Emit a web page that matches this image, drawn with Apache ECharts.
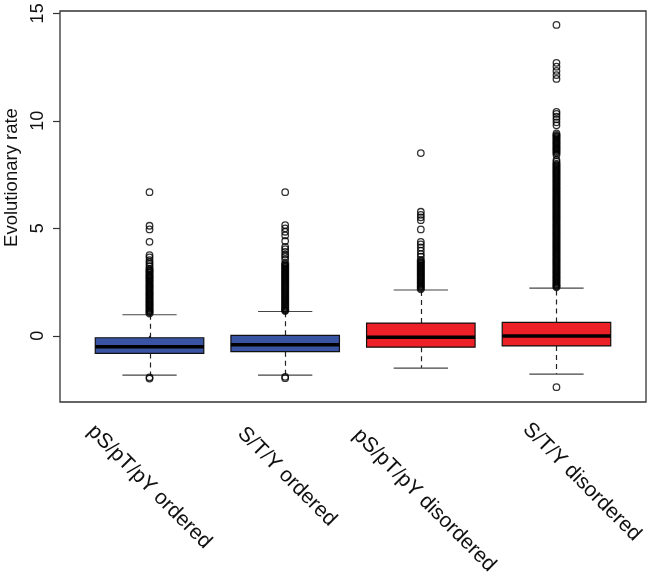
<!DOCTYPE html>
<html>
<head>
<meta charset="utf-8">
<script src="https://cdn.jsdelivr.net/npm/echarts@6/dist/echarts.min.js"></script>
<style>
  html, body { margin: 0; padding: 0; background: #fff; }
  #chart { width: 654px; height: 579px; }
</style>
</head>
<body>
<div id="chart"></div>
<script>
// categories along the x axis (positions 1..4)
const categories = ["pS/pT/pY ordered", "S/T/Y ordered", "pS/pT/pY disordered", "S/T/Y disordered"];
// [lower whisker, Q1, median, Q3, upper whisker]
const boxStats = [
  [-1.83, -0.82, -0.51, -0.09, 0.98],
  [-1.83, -0.74, -0.42, 0.02, 1.13],
  [-1.50, -0.53, -0.07, 0.59, 2.13],
  [-1.78, -0.47, -0.01, 0.62, 2.22]
];
// isolated outliers per group
const outliers1 = [6.68, 5.12, 4.95, 4.37, 3.75, 3.65, 3.52, 3.42, 3.33, 3.24, -1.93, -1.99];
const outliers2 = [6.68, 5.15, 5.0, 4.84, 4.67, 4.41, 4.14, 4.03, 3.9, 3.78, 3.68, 3.55, -1.91, -1.97];
const outliers3 = [8.5, 5.77, 5.63, 5.51, 5.38, 4.95, 4.37, 4.25, 4.11, 3.96, 3.8, 3.68];
const outliers4 = [14.46, 12.7, 12.52, 12.32, 12.13, 11.95, 10.42, 10.32, 10.19, 10.07, 9.93, 9.79, 9.42,
  8.41, 8.18, 8.1, -2.39];
// dense runs of outliers (read as closely packed points forming a solid column)
const dense1 = [3.12, 3.03, 2.95, 2.84, 2.76, 2.68, 2.59, 2.51, 2.42, 2.33, 2.25, 2.16, 2.07, 1.98, 1.9,
  1.81, 1.72, 1.63, 1.55, 1.46, 1.38, 1.29, 1.2, 1.12, 1.04];
const dense2 = [3.37, 3.28, 3.19, 3.1, 3.01, 2.92, 2.83, 2.74, 2.65, 2.56, 2.47, 2.38, 2.29, 2.2, 2.11,
  2.02, 1.93, 1.84, 1.75, 1.66, 1.57, 1.48, 1.39, 1.3, 1.21, 1.16];
const dense3 = [3.52, 3.43, 3.34, 3.25, 3.16, 3.07, 2.98, 2.89, 2.8, 2.71, 2.62, 2.53, 2.44, 2.35, 2.26, 2.17];
const dense4 = [9.34, 9.25, 9.16, 9.06, 8.97, 8.88, 8.78, 8.69, 8.6, 8.5, 8.0, 7.91, 7.82, 7.73, 7.64,
  7.55, 7.46, 7.37, 7.28, 7.19, 7.1, 7.01, 6.92, 6.83, 6.74, 6.65, 6.56, 6.47, 6.38, 6.29, 6.2, 6.11, 6.02,
  5.93, 5.84, 5.75, 5.66, 5.57, 5.48, 5.39, 5.3, 5.21, 5.12, 5.03, 4.94, 4.85, 4.76, 4.67, 4.58, 4.49, 4.4,
  4.31, 4.22, 4.13, 4.04, 3.95, 3.86, 3.77, 3.68, 3.59, 3.5, 3.41, 3.32, 3.23, 3.14, 3.05, 2.96, 2.87, 2.78,
  2.69, 2.6, 2.51, 2.42, 2.33, 2.26];
const yTicks = [0, 5, 10, 15];

const boxColors = ["#3a54a4", "#3a54a4", "#ed1f27", "#ed1f27"];
const FONT = "'Liberation Sans', Arial, Helvetica, sans-serif";
// per-label nudges of the rotated x labels [top, right, bottom, left]
const labelPads = [[4, 0, 0, 4], [0, 8, 13, 0], [18, 0, 0, 28], [0, 0, 39, 33]];

const chart = echarts.init(document.getElementById("chart"));

// boxes drawn by a custom series so whiskers can be dashed and medians thick
const boxData = boxStats.map((s, i) => [i + 1].concat(s));
const toPoints = groups => groups.map((arr, i) => arr.map(v => [i + 1, v])).flat();
const outlierData = toPoints([outliers1, outliers2, outliers3, outliers4]);
const denseData = toPoints([dense1, dense2, dense3, dense4]);

const labelRich = {};
labelPads.forEach((p, i) => {
  labelRich["c" + i] = { fontSize: 21, fontFamily: FONT, color: "#111", padding: p };
});

function renderBox(params, api) {
  const x = api.value(0);
  const lo = api.value(1), q1 = api.value(2), med = api.value(3), q3 = api.value(4), hi = api.value(5);
  const half = 0.4, cap = 0.2;
  const pLo = api.coord([x, lo]), pQ1 = api.coord([x, q1]), pMed = api.coord([x, med]);
  const pQ3 = api.coord([x, q3]), pHi = api.coord([x, hi]);
  const xl = api.coord([x - half, 0])[0], xr = api.coord([x + half, 0])[0];
  const cl = api.coord([x - cap, 0])[0], cr = api.coord([x + cap, 0])[0];
  const cx = Math.round(pMed[0]) + 0.5;
  const dash = { stroke: "#222", lineWidth: 1.2, lineDash: [5, 4] };
  return {
    type: "group",
    children: [
      { type: "line", shape: { x1: cx, y1: pQ3[1], x2: cx, y2: pHi[1] }, style: dash },
      { type: "line", shape: { x1: cx, y1: pQ1[1], x2: cx, y2: pLo[1] }, style: dash },
      { type: "line", shape: { x1: cl, y1: pHi[1], x2: cr, y2: pHi[1] }, style: { stroke: "#444", lineWidth: 1.2 } },
      { type: "line", shape: { x1: cl, y1: pLo[1], x2: cr, y2: pLo[1] }, style: { stroke: "#444", lineWidth: 1.2 } },
      {
        type: "rect",
        shape: { x: xl, y: pQ3[1], width: xr - xl, height: pQ1[1] - pQ3[1] },
        style: { fill: boxColors[params.dataIndex], stroke: "#111", lineWidth: 1.2 }
      },
      { type: "line", shape: { x1: xl, y1: pMed[1], x2: xr, y2: pMed[1] }, style: { stroke: "#000", lineWidth: 3.5 } }
    ]
  };
}

const option = {
  animation: false,
  backgroundColor: "#fff",
  grid: {
    left: 60, right: 8, top: 11, bottom: 177,
    outerBoundsMode: "none",
    containLabel: false,
    show: true, borderColor: "#333", borderWidth: 1.3, backgroundColor: "transparent"
  },
  xAxis: {
    type: "value",
    min: 0.34, max: 4.66,
    axisLine: { show: false },
    splitLine: { show: false },
    axisTick: { show: true, length: 7, lineStyle: { color: "#333", width: 1.2 }, customValues: [1, 2, 3, 4] },
    axisLabel: {
      customValues: [1, 2, 3, 4],
      formatter: v => {
        const i = Math.round(v) - 1;
        return categories[i] ? "{c" + i + "|" + categories[i] + "}" : "";
      },
      rich: labelRich,
      rotate: -45,
      align: "center",
      verticalAlign: "middle",
      margin: 82,
      fontSize: 21,
      fontFamily: FONT,
      color: "#111"
    }
  },
  yAxis: {
    type: "value",
    min: -3.08, max: 15.11,
    name: "Evolutionary rate",
    nameLocation: "middle",
    nameGap: 37,
    nameTextStyle: { fontSize: 18.5, fontFamily: FONT, color: "#111", padding: [0, 0, 0, 58] },
    axisLine: { show: false },
    splitLine: { show: false },
    axisTick: { show: true, length: 7, lineStyle: { color: "#333", width: 1.2 }, customValues: yTicks },
    axisLabel: {
      customValues: yTicks,
      rotate: 90,
      margin: 13,
      fontSize: 18,
      fontFamily: FONT,
      color: "#111"
    }
  },
  series: [
    {
      type: "custom",
      renderItem: renderBox,
      encode: { x: 0, y: [1, 2, 3, 4, 5] },
      data: boxData,
      silent: true,
      z: 2
    },
    {
      type: "scatter",
      data: outlierData,
      symbol: "circle",
      symbolSize: 6.5,
      itemStyle: { color: "rgba(0,0,0,0)", borderColor: "#000", borderWidth: 1.3 },
      silent: true,
      z: 3
    },
    {
      type: "scatter",
      data: denseData,
      symbol: "circle",
      symbolSize: 6,
      itemStyle: { color: "rgba(0,0,0,0)", borderColor: "#000", borderWidth: 2.2 },
      silent: true,
      z: 3
    }
  ]
};

chart.setOption(option);
</script>
</body>
</html>
